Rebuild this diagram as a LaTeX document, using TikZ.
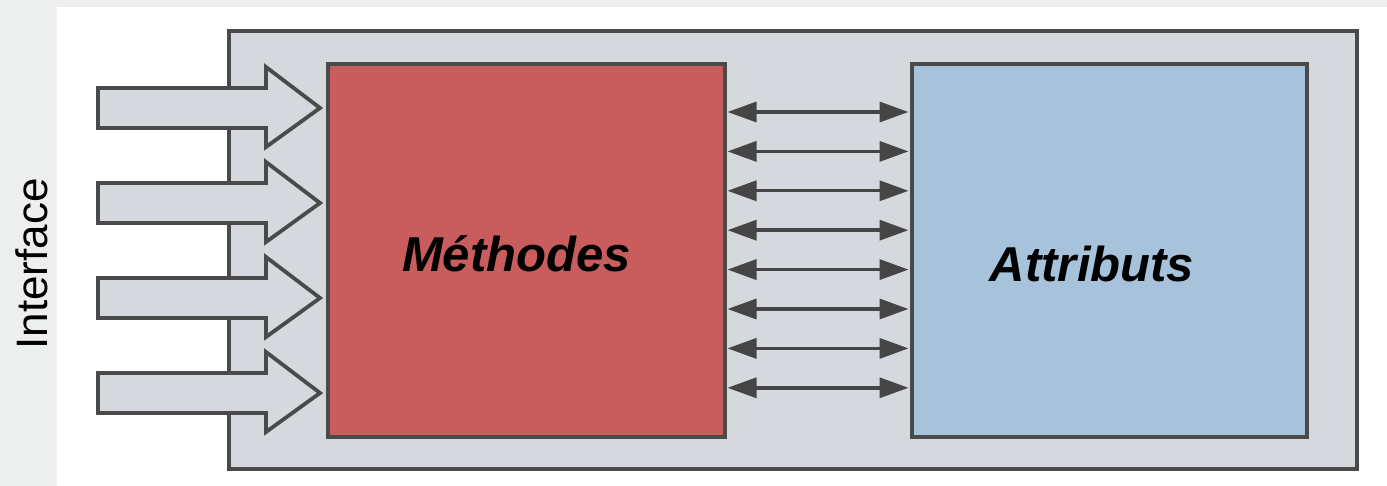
\documentclass[tikz,border=0pt]{standalone}
\usepackage{fontspec}
\setmainfont{Liberation Sans}
\usetikzlibrary{arrows.meta}
\definecolor{panelgrey}{HTML}{D5D8DC}
\definecolor{edgegrey}{HTML}{4A4A4A}
\definecolor{methred}{HTML}{C95D5D}
\definecolor{attrblue}{HTML}{A6C3DB}
\definecolor{linkgrey}{HTML}{454545}
\definecolor{stripgrey}{HTML}{EDEFEF}
\tikzset{
  box/.style={draw=edgegrey, line width=3.5pt, inner sep=0pt, outer sep=0pt},
  bigarrow/.style={draw=edgegrey, fill=panelgrey, line width=3.8pt, line join=miter},
  link/.style={draw=linkgrey, line width=3.4pt,
    {Triangle[length=29pt,width=20pt]}-{Triangle[length=29pt,width=20pt]}},
  title/.style={font=\fontsize{49}{58}\selectfont\bfseries\itshape, anchor=base},
  side/.style={font=\fontsize{44}{52}\selectfont, rotate=90, anchor=base}
}
\begin{document}
\begin{tikzpicture}[x=1pt, y=-1pt]
  \useasboundingbox (0,0) rectangle (1387,486);
  \fill[white] (0,0) rectangle (1387,486);
  % pale margin strips
  \fill[stripgrey] (0,0) rectangle (57,486);
  \fill[stripgrey] (0,0) rectangle (1387,7);

  % object frame
  \node[box, fill=panelgrey, minimum width=1128pt, minimum height=438pt] (obj) at (793,250) {};

  % incoming calls through the interface
  \foreach \t [count=\i] in {108,203,298,393} {
    \draw[bigarrow] (98,\t-20) -- (266,\t-20) -- (266,\t-41) -- (320,\t)
      -- (266,\t+39) -- (266,\t+20) -- (98,\t+20) -- cycle;
  }

  % methods and attributes
  \node[box, fill=methred, minimum width=397pt, minimum height=373pt] (meth) at (526.5,250.5) {};
  \node[box, fill=attrblue, minimum width=395pt, minimum height=373pt] (attr) at (1109.5,250.5) {};

  \node[title] (methlabel) at (516.5,272) {Méthodes};
  \node[title] (attrlabel) at (1092,282) {Attributs};
  \node[side] (iface) at (47,264) {Interface};

  % access links between methods and attributes
  \foreach \k in {0,...,7} {
    \draw[link] ([xshift=2.5pt, yshift={-48pt-39.4pt*\k}]meth.north east)
      -- ([xshift=-3.5pt, yshift={-48pt-39.4pt*\k}]attr.north west);
  }
\end{tikzpicture}
\end{document}
